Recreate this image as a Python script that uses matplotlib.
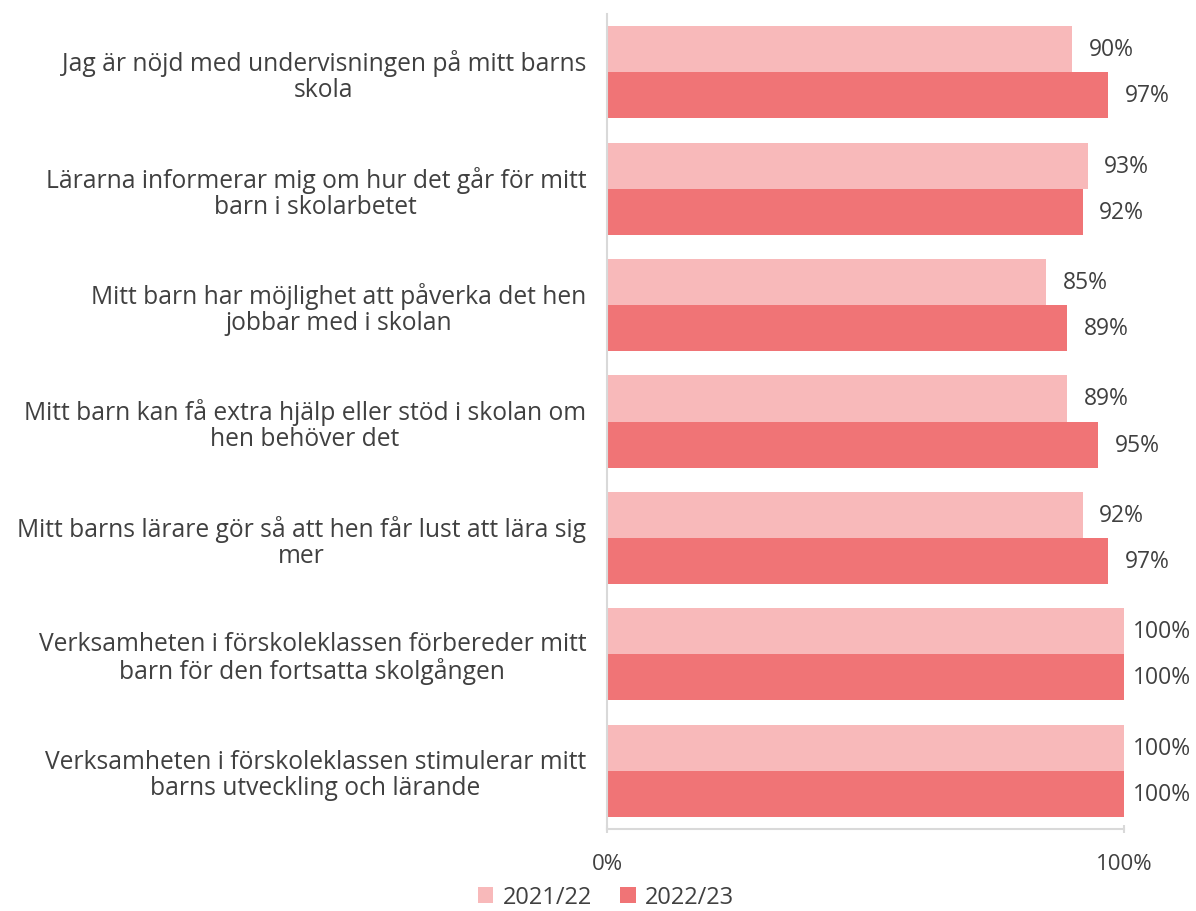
import matplotlib
matplotlib.use("Agg")
import matplotlib.pyplot as plt
import numpy as np

plt.rcParams['font.family'] = ['Open Sans', 'DejaVu Sans']

kategorier = [
    "Jag är nöjd med undervisningen på mitt barns\nskola",
    "Lärarna informerar mig om hur det går för mitt\nbarn i skolarbetet",
    "Mitt barn har möjlighet att påverka det hen\njobbar med i skolan",
    "Mitt barn kan få extra hjälp eller stöd i skolan om\nhen behöver det",
    "Mitt barns lärare gör så att hen får lust att lära sig\nmer",
    "Verksamheten i förskoleklassen förbereder mitt\nbarn för den fortsatta skolgången",
    "Verksamheten i förskoleklassen stimulerar mitt\nbarns utveckling och lärande",
]
serier = ["2021/22", "2022/23"]
varden_2122 = [90, 93, 85, 89, 92, 100, 100]
varden_2223 = [97, 92, 89, 95, 97, 100, 100]
farger = ["#F8B9BA", "#F07476"]

fig = plt.figure(figsize=(11.96, 9.12), dpi=100)
ax = fig.add_axes([607/1196, 1 - 830/912, 517/1196, 815/912])

y = np.arange(len(kategorier))
h = 0.396
b1 = ax.barh(y - h/2, varden_2122, height=h, color=farger[0], label=serier[0])
b2 = ax.barh(y + h/2, varden_2223, height=h, color=farger[1], label=serier[1])

for bars, vals in [(b1, varden_2122), (b2, varden_2223)]:
    for bar, v in zip(bars, vals):
        # etiketter vid 100% får plats bara om de ligger närmare stapeln
        off = 3.2 if v < 100 else 1.7
        ax.text(v + off, bar.get_y() + bar.get_height()/2, f"{v}%",
                va="center", ha="left", fontsize=16.5, color="#404040")

ax.set_xlim(0, 100)
ax.set_ylim(6.5, -0.5)
ax.set_yticks(y)
ax.set_yticklabels(kategorier, fontsize=17.7, color="#404040", multialignment="center",
                   linespacing=1.05)
ax.tick_params(axis="y", length=0, pad=15)
ax.set_xticks([0, 100])
ax.set_xticklabels(["0%", "100%"], fontsize=16, color="#404040")
ax.tick_params(axis="x", length=6, color="#d9d9d9", width=1.5, pad=14, direction="inout")

for s in ["top", "right"]:
    ax.spines[s].set_visible(False)
ax.spines["left"].set_color("#d9d9d9")
ax.spines["left"].set_linewidth(1.5)
ax.spines["bottom"].set_color("#d9d9d9")
ax.spines["bottom"].set_linewidth(1.5)

fig.legend(loc="center", bbox_to_anchor=(606/1196, 1 - 898/912), ncol=2,
           frameon=False, fontsize=17, handlelength=0.65, handleheight=0.65,
           handletextpad=0.4, columnspacing=1.2, labelcolor="#404040")

fig.savefig("out.png", dpi=100)
